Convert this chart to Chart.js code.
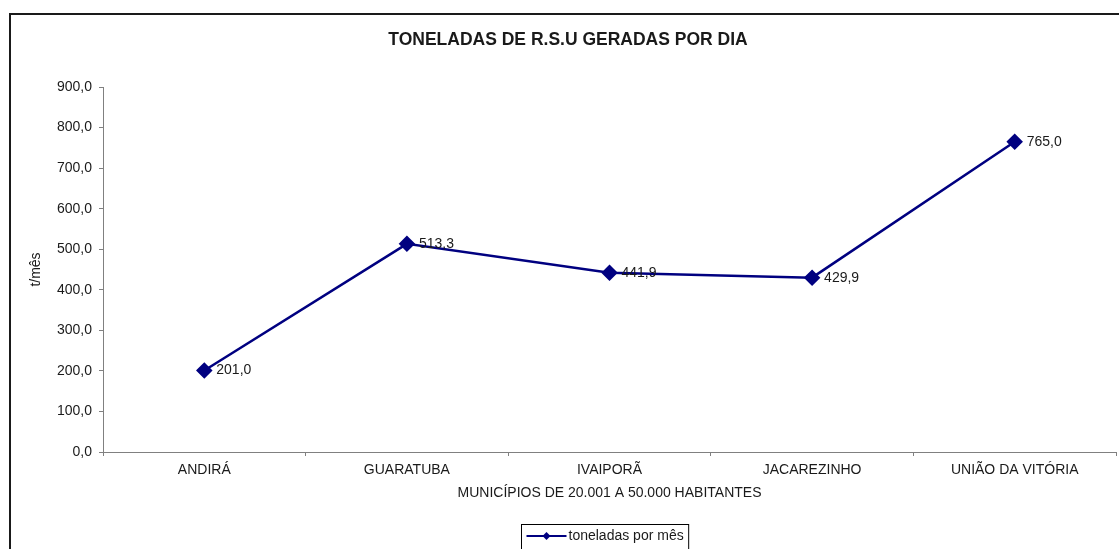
<!DOCTYPE html>
<html lang="pt">
<head>
<meta charset="utf-8">
<title>Toneladas de R.S.U geradas por dia</title>
<script src="https://cdn.jsdelivr.net/npm/chart.js@4.4.1/dist/chart.umd.min.js"></script>
<style>
    body { margin: 0; background: #ffffff; }
    #grafico { display: block; }
</style>
</head>
<body>
<canvas id="grafico" width="1119" height="549"></canvas>
<script>
// dados do gráfico
const municipios = ['ANDIRÁ', 'GUARATUBA', 'IVAIPORÃ', 'JACAREZINHO', 'UNIÃO DA VITÓRIA'];
const toneladas = [201.0, 513.3, 441.9, 429.9, 765.0];
const eixoY = [0, 100, 200, 300, 400, 500, 600, 700, 800, 900];

const fonte = "'Liberation Sans', Arial, sans-serif";
const azul = '#000080';
const cinza = '#808080';

// formato 513,3
function formatar(v) {
    return Number(v).toFixed(1).replace('.', ',');
}

// moldura à volta do gráfico
const moldura = {
    id: 'moldura',
    beforeDraw(chart) {
        const ctx = chart.ctx;
        ctx.save();
        ctx.fillStyle = '#ffffff';
        ctx.fillRect(0, 0, chart.width, chart.height);
        ctx.restore();
    },
    afterDraw(chart) {
        const ctx = chart.ctx;
        ctx.save();
        ctx.strokeStyle = '#1a1a1a';
        ctx.lineWidth = 2;
        ctx.strokeRect(10, 14, chart.width + 20, chart.height + 20);
        ctx.restore();
    }
};

// valores ao lado de cada ponto
const rotulos = {
    id: 'rotulos',
    afterDatasetsDraw(chart) {
        const ctx = chart.ctx;
        const meta = chart.getDatasetMeta(0);
        ctx.save();
        ctx.font = '14px ' + fonte;
        ctx.fillStyle = '#1a1a1a';
        ctx.textAlign = 'left';
        ctx.textBaseline = 'middle';
        meta.data.forEach((p, i) => {
            ctx.fillText(formatar(chart.data.datasets[0].data[i]), p.x + 12, p.y);
        });
        ctx.restore();
    }
};

// legenda em caixa, com linha e losango
const legenda = {
    id: 'legenda',
    afterDraw(chart) {
        const ctx = chart.ctx;
        const ds = chart.data.datasets[0];
        ctx.save();
        ctx.font = '14px ' + fonte;
        const larguraTexto = ctx.measureText(ds.label).width;
        const largura = 5 + 40 + 2 + larguraTexto + 5;
        const x0 = Math.round(605 - largura / 2) + 0.5;
        const y0 = 524.5;
        const ym = 536;
        ctx.strokeStyle = '#000000';
        ctx.lineWidth = 1;
        ctx.strokeRect(x0, y0, largura, 40);
        ctx.strokeStyle = ds.borderColor;
        ctx.lineWidth = 2;
        ctx.beginPath();
        ctx.moveTo(x0 + 5, ym);
        ctx.lineTo(x0 + 45, ym);
        ctx.stroke();
        const cx = x0 + 25;
        ctx.fillStyle = ds.pointBackgroundColor;
        ctx.beginPath();
        ctx.moveTo(cx, ym - 4);
        ctx.lineTo(cx + 4, ym);
        ctx.lineTo(cx, ym + 4);
        ctx.lineTo(cx - 4, ym);
        ctx.closePath();
        ctx.fill();
        ctx.fillStyle = '#1a1a1a';
        ctx.textAlign = 'left';
        ctx.textBaseline = 'middle';
        ctx.fillText(ds.label, x0 + 47, ym);
        ctx.restore();
    }
};

const grafico = new Chart(document.getElementById('grafico'), {
    type: 'line',
    data: {
        labels: municipios,
        datasets: [{
            label: 'toneladas por mês',
            data: toneladas,
            borderColor: azul,
            backgroundColor: azul,
            pointBackgroundColor: azul,
            pointBorderColor: azul,
            borderWidth: 2.5,
            pointStyle: 'rectRot',
            pointRadius: 6.5,
            pointHoverRadius: 6.5,
            tension: 0,
            fill: false
        }]
    },
    options: {
        responsive: false,
        animation: false,
        events: [],
        layout: {
            autoPadding: false,
            padding: { left: 20, right: 3, top: 0, bottom: 45 }
        },
        scales: {
            x: {
                type: 'category',
                offset: true,
                grid: {
                    offset: true,
                    drawOnChartArea: false,
                    drawTicks: true,
                    tickLength: 4,
                    tickColor: cinza
                },
                border: { color: cinza, width: 1 },
                ticks: {
                    color: '#1a1a1a',
                    font: { family: fonte, size: 14 },
                    padding: 6,
                    maxRotation: 0,
                    autoSkip: false
                },
                title: {
                    display: true,
                    text: 'MUNICÍPIOS DE 20.001 A 50.000 HABITANTES',
                    color: '#1a1a1a',
                    font: { family: fonte, size: 14 },
                    padding: { top: 4, bottom: 2 }
                },
                afterFit(scale) {
                    scale.height = 52;
                    scale.paddingLeft = 0;
                    scale.paddingRight = 0;
                }
            },
            y: {
                min: eixoY[0],
                max: eixoY[eixoY.length - 1],
                afterBuildTicks(scale) {
                    scale.ticks = eixoY.map(v => ({ value: v }));
                },
                grid: {
                    drawOnChartArea: false,
                    drawTicks: true,
                    tickLength: 4,
                    tickColor: cinza
                },
                border: { color: cinza, width: 1 },
                ticks: {
                    color: '#1a1a1a',
                    font: { family: fonte, size: 14 },
                    padding: 7,
                    callback: v => formatar(v)
                },
                title: {
                    display: true,
                    text: 't/mês',
                    color: '#1a1a1a',
                    font: { family: fonte, size: 14 },
                    padding: { top: 8, bottom: 0 }
                },
                afterFit(scale) { scale.width = 83; }
            }
        },
        plugins: {
            legend: { display: false },
            tooltip: { enabled: false },
            title: {
                display: true,
                text: 'TONELADAS DE R.S.U GERADAS POR DIA',
                color: '#1a1a1a',
                font: { family: fonte, size: 17.5, weight: 'bold' },
                padding: { top: 29.5, bottom: 36.5 }
            }
        }
    },
    plugins: [moldura, rotulos, legenda]
});
</script>
</body>
</html>
